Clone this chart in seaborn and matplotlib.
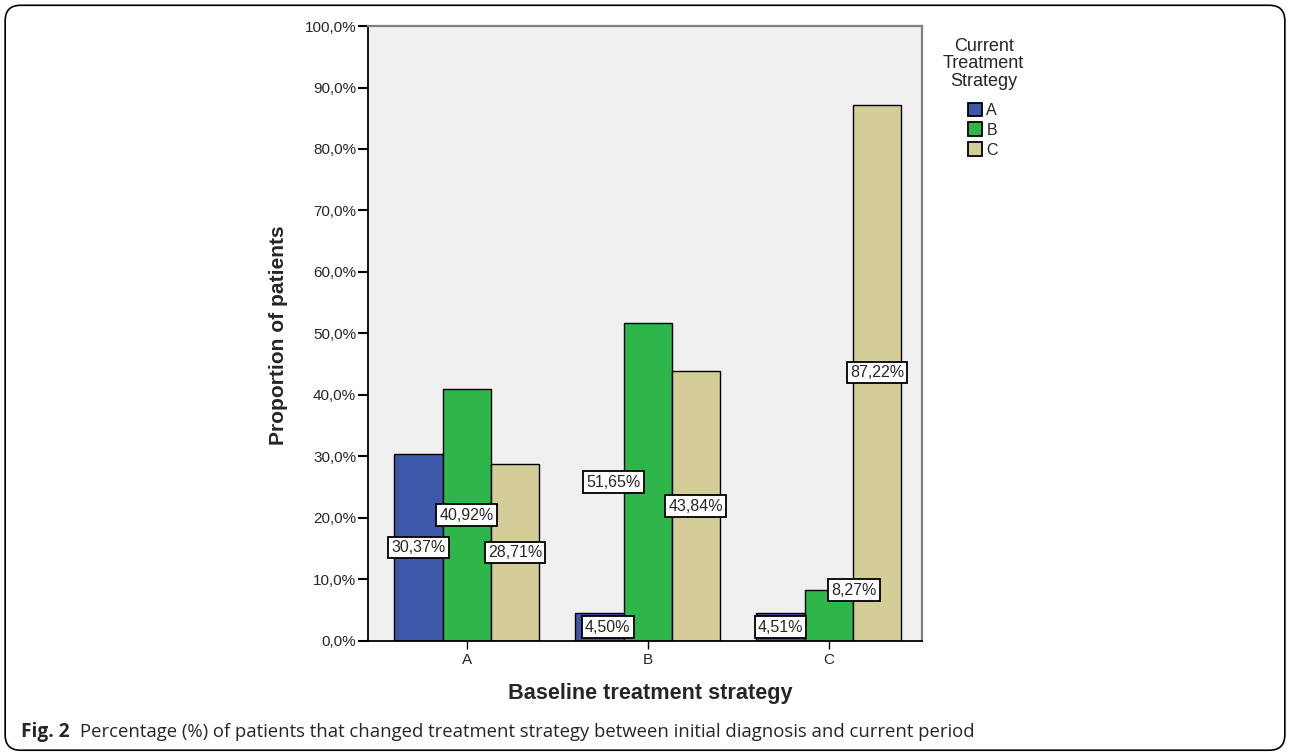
import matplotlib
matplotlib.use("Agg")
import matplotlib.pyplot as plt
from matplotlib.patches import FancyBboxPatch, Patch
import seaborn as sns
import pandas as pd

baseline = ["A", "B", "C"]
current = ["A", "B", "C"]
values_A = [30.37, 4.50, 4.51]    # current A
values_B = [40.92, 51.65, 8.27]   # current B
values_C = [28.71, 43.84, 87.22]  # current C
yticks = [0, 10, 20, 30, 40, 50, 60, 70, 80, 90, 100]

colors = ["#3d57ab", "#2fb64b", "#d4cd97"]

# label placement tweaks (dx in category units, y mode) to mimic the original's collision avoidance
label_dx = {("B", "A"): 0.045, ("B", "B"): -0.19, ("C", "B"): 0.138}
label_at_top = {("C", "B")}

rows = []
for cur, vals in zip(current, [values_A, values_B, values_C]):
    for b, v in zip(baseline, vals):
        rows.append({"Baseline": b, "Current": cur, "Value": v})
df = pd.DataFrame(rows)

sns.set_style("white")
plt.rcParams["font.family"] = ["Liberation Sans", "DejaVu Sans"]

fig = plt.figure(figsize=(12.9, 7.54), dpi=100)
ax = fig.add_axes([0.2853, 0.150, 0.4294, 0.8155])
ax.set_facecolor("#f0f0f0")

sns.barplot(data=df, x="Baseline", y="Value", hue="Current", order=baseline,
            hue_order=current, palette=colors, width=0.8, edgecolor="black",
            linewidth=1.0, saturation=1, ax=ax, legend=False)

ax.set_ylim(0, 100)
ax.set_xlim(-0.545, 2.515)
ax.set_yticks(yticks)
ax.set_yticklabels([f"{t:.1f}%".replace(".", ",") for t in yticks], fontsize=11)
ax.tick_params(axis="y", direction="out", length=7.5, width=1.5, color="black", left=True, pad=1)
ax.tick_params(axis="x", direction="out", length=5.5, width=1.0, color="black", bottom=True, labelsize=11, pad=3)

for side in ["top", "right"]:
    ax.spines[side].set_color("#808080")
    ax.spines[side].set_linewidth(1.6)
ax.spines["left"].set_color("black")
ax.spines["left"].set_linewidth(1.3)
ax.spines["bottom"].set_color("black")
ax.spines["bottom"].set_linewidth(1.3)

ax.set_xlabel("Baseline treatment strategy", fontsize=15.6, fontweight="bold")
ax.xaxis.set_label_coords(0.509, -0.068)
ax.set_ylabel("Proportion of patients", fontsize=15.1, fontweight="bold")
ax.yaxis.set_label_coords(-0.1444, 0.497)

# value labels
ppd = ax.get_window_extent().height / 100.0  # pixels per data unit
min_y = 12.5 / ppd
for cur, cont in zip(current, ax.containers):
    for b, p in zip(baseline, cont):
        h = p.get_height()
        cx = p.get_x() + p.get_width() / 2 + label_dx.get((b, cur), 0.0)
        cy = h if (b, cur) in label_at_top else max(h / 2, min_y)
        ax.text(cx, cy, f"{h:.2f}%".replace(".", ","), ha="center", va="center",
                fontsize=11.5, zorder=5,
                bbox=dict(boxstyle="square,pad=0.2", facecolor="white",
                          edgecolor="black", linewidth=1.3))

# legend
fig.text(0.7625, 0.950, "Current\nTreatment\nStrategy", ha="center", va="top",
         fontsize=13, linespacing=1.06)
handles = [Patch(facecolor=c, edgecolor="black", linewidth=1.3) for c in colors]
fig.legend(handles, current, loc="upper left", bbox_to_anchor=(0.7504, 0.864),
           frameon=False, fontsize=11.5, handlelength=0.85, handleheight=0.95,
           handletextpad=0.3, labelspacing=0.28, borderaxespad=0, borderpad=0)

# caption
fig.text(0.016, 0.0225, "Fig. 2", fontsize=13.8, fontweight="bold",
         family=["Open Sans", "DejaVu Sans"], ha="left", va="baseline")
fig.text(0.062, 0.0225, "Percentage (%) of patients that changed treatment strategy between initial diagnosis and current period",
         fontsize=13.3, family=["Open Sans", "DejaVu Sans"], ha="left", va="baseline")

border = FancyBboxPatch((0.004, 0.005), 0.992, 0.988, boxstyle="round,pad=0,rounding_size=0.012",
                        transform=fig.transFigure, facecolor="none", edgecolor="black",
                        linewidth=1.2, mutation_aspect=1.71)
fig.patches.append(border)

fig.savefig("out.png", dpi=100)
